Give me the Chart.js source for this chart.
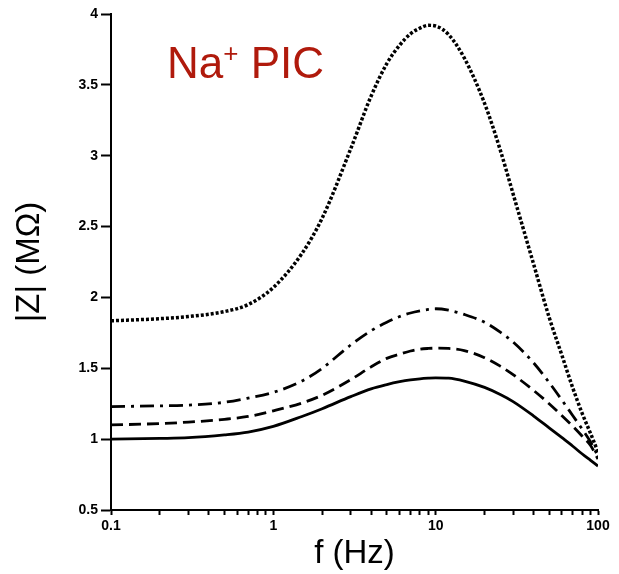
<!DOCTYPE html>
<html>
<head>
<meta charset="utf-8">
<script src="https://cdn.jsdelivr.net/npm/chart.js@4"></script>
<style>
  html, body { margin: 0; padding: 0; background: #fff; }
  #wrap { position: relative; width: 619px; height: 574px; }
  #label {
    position: absolute; left: 167px; top: 38px;
    font-family: "Liberation Sans", Arial, sans-serif; font-size: 44px;
    color: #b01a0c; white-space: nowrap;
  }
  #label sup { font-size: 26px; vertical-align: 16px; line-height: 0; }
</style>
</head>
<body>
<div id="wrap">
  <canvas id="chart" width="619" height="574"></canvas>
  <div id="label">Na<sup>+</sup> PIC</div>
</div>
<script>
// Frequenzen (Hz) und |Z| (MOhm) je Kurve
const freq = [0.1, 0.2, 0.3, 0.5, 0.7, 1, 1.5, 2, 3, 4, 5, 6, 7, 8, 9, 10, 12, 15, 20, 25, 30, 40, 50, 60, 70, 80, 90, 100];
const zSolid   = [1.00, 1.005, 1.01, 1.03, 1.05, 1.09, 1.16, 1.215, 1.30, 1.355, 1.385, 1.405, 1.418, 1.426, 1.43, 1.432, 1.43, 1.41, 1.365, 1.315, 1.265, 1.165, 1.08, 1.01, 0.95, 0.895, 0.85, 0.81];
const zDashed  = [1.10, 1.11, 1.12, 1.14, 1.16, 1.20, 1.255, 1.31, 1.42, 1.51, 1.57, 1.60, 1.622, 1.635, 1.64, 1.642, 1.64, 1.625, 1.575, 1.515, 1.455, 1.345, 1.25, 1.165, 1.09, 1.02, 0.955, 0.86];
const zDashDot = [1.23, 1.235, 1.24, 1.26, 1.29, 1.33, 1.41, 1.50, 1.665, 1.765, 1.825, 1.865, 1.89, 1.905, 1.915, 1.92, 1.91, 1.88, 1.825, 1.755, 1.685, 1.54, 1.40, 1.275, 1.165, 1.07, 0.98, 0.88];
const zDotted  = [1.835, 1.85, 1.865, 1.90, 1.95, 2.07, 2.31, 2.56, 3.05, 3.42, 3.65, 3.78, 3.86, 3.90, 3.92, 3.915, 3.855, 3.69, 3.37, 3.04, 2.73, 2.24, 1.86, 1.59, 1.36, 1.18, 1.04, 0.91];

const xTicks = [0.1, 1, 10, 100];
const yTicks = [0.5, 1, 1.5, 2, 2.5, 3, 3.5, 4];

const toPoints = arr => freq.map((f, i) => ({ x: f, y: arr[i] }));

const line = (label, arr, dash, width) => ({
  label: label,
  data: toPoints(arr),
  borderColor: '#000',
  borderWidth: width,
  borderDash: dash,
  borderCapStyle: 'butt',
  pointRadius: 0,
  cubicInterpolationMode: 'monotone',
  fill: false
});

// alle Teilstriche 0.1..100 (Dekaden + Zwischenwerte)
const allXTicks = [];
for (let d = 0.1; d < 100; d *= 10) {
  for (let k = 1; k < 10; k++) allXTicks.push(+(d * k).toPrecision(3));
}
allXTicks.push(100);

new Chart(document.getElementById('chart'), {
  type: 'line',
  data: {
    datasets: [
      line('solid', zSolid, [], 2.8),
      line('dashed', zDashed, [12, 6], 2.8),
      line('dashdot', zDashDot, [14, 6, 3, 6], 2.8),
      line('dotted', zDotted, [3, 2], 3.5)
    ]
  },
  options: {
    responsive: false,
    animation: false,
    layout: { padding: { left: 0, right: 21, top: 14, bottom: 0 } },
    plugins: { legend: { display: false }, tooltip: { enabled: false } },
    scales: {
      x: {
        type: 'logarithmic',
        min: 0.1,
        max: 100,
        afterBuildTicks: scale => { scale.ticks = allXTicks.map(v => ({ value: v })); },
        afterFit: scale => { scale.height = 64; },
        border: { color: '#000', width: 2 },
        grid: { drawOnChartArea: false, drawTicks: true, tickLength: 5, tickColor: '#000', tickWidth: 2 },
        ticks: {
          autoSkip: false,
          maxRotation: 0,
          padding: 3,
          color: '#000',
          font: { family: 'Liberation Sans', size: 14, weight: 'bold' },
          callback: v => xTicks.includes(v) ? String(v) : ''
        },
        title: {
          display: true,
          text: 'f (Hz)',
          color: '#000',
          padding: { top: 0, bottom: 0 },
          font: { family: 'Liberation Sans', size: 33 }
        }
      },
      y: {
        min: 0.5,
        max: 4,
        afterBuildTicks: scale => { scale.ticks = yTicks.map(v => ({ value: v })); },
        afterFit: scale => { scale.width = 111; },
        border: { color: '#000', width: 2 },
        grid: { drawOnChartArea: false, drawTicks: true, tickLength: 10, tickColor: '#000', tickWidth: 2 },
        ticks: {
          padding: 3,
          color: '#000',
          font: { family: 'Liberation Sans', size: 14, weight: 'bold' },
          callback: v => String(v)
        },
        title: {
          display: true,
          text: '|Z| (MΩ)',
          color: '#000',
          padding: { top: 10, bottom: 0 },
          font: { family: 'Liberation Sans', size: 33 }
        }
      }
    }
  }
});
</script>
</body>
</html>
